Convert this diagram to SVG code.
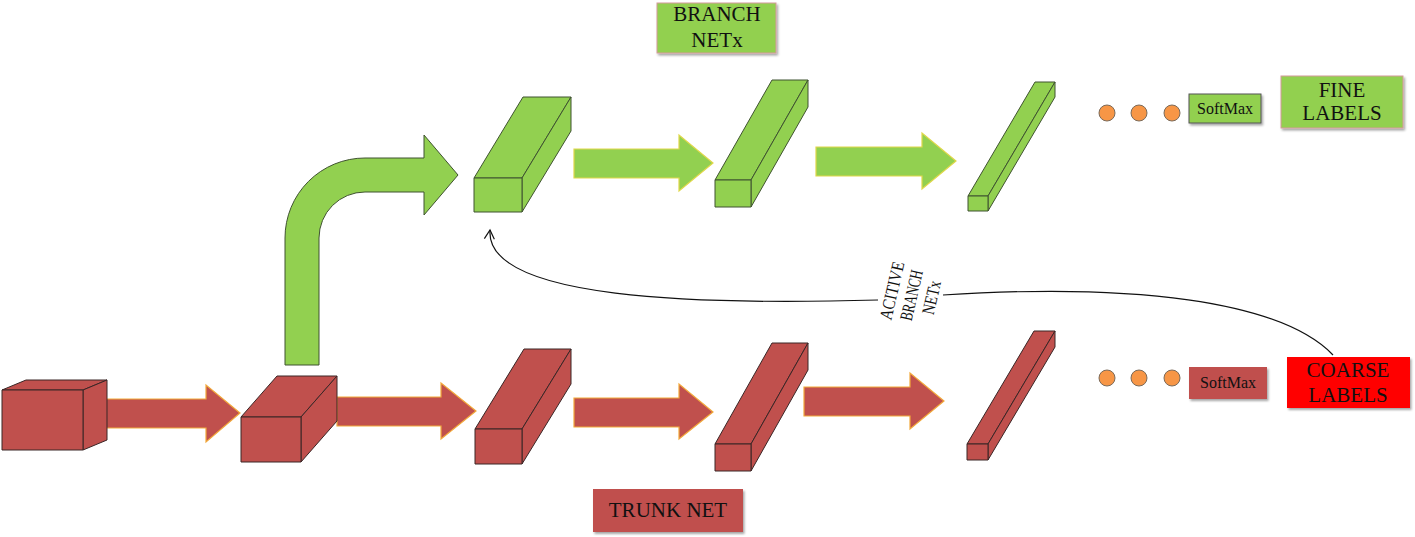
<svg xmlns="http://www.w3.org/2000/svg" width="1415" height="537" viewBox="0 0 1415 537">
<defs>
<style>
.r{fill:#C0504D;stroke:#3a2626;stroke-width:1;stroke-linejoin:round}
.g{fill:#92D050;stroke:#3f5330;stroke-width:1;stroke-linejoin:round}
.ra{fill:#C0504D;stroke:#F2A93B;stroke-width:1.2}
.ga{fill:#92D050;stroke:#E0D84A;stroke-width:1.2}
.dot{fill:#F79646;stroke:#7a6a5a;stroke-width:1}
text{font-family:'Liberation Serif','Times New Roman',serif;fill:#111;text-anchor:middle}
.lbl{stroke:#d49a9a;stroke-width:1}
.conn{fill:none;stroke:#111;stroke-width:1.2}
</style>
<filter id="sh" x="-10%" y="-10%" width="130%" height="140%">
<feDropShadow dx="1.5" dy="2" stdDeviation="1.2" flood-color="#000" flood-opacity="0.35"/>
</filter>
<marker id="ah" viewBox="0 0 12 12" refX="10" refY="6" markerWidth="12" markerHeight="12" markerUnits="userSpaceOnUse" orient="auto">
<path d="M1,1 L10,6 L1,11" fill="none" stroke="#111" stroke-width="1.2"/>
</marker>
</defs>
<rect width="1415" height="537" fill="#fff"/>

<g id="connectors">
<path class="ra" d="M101,399 H206 V385 L240,413 L206,442 V428 H101 Z"/>
<path class="ra" d="M337,397 H441 V383 L476,411 L441,439 V426 H337 Z"/>
<path class="ra" d="M574,398 H679 V384 L713,412 L679,439 V427 H574 Z"/>
<path class="ra" d="M804,387 H910 V373 L944,401 L910,429 V416 H804 Z"/>
<path class="ga" d="M574,149 H679 V135 L713,163 L679,191 V178 H574 Z"/>
<path class="ga" d="M816,147 H922 V133 L956,161 L922,189 V176 H816 Z"/>
<path class="g" d="M285,365 V238 A80,80 0 0 1 365,158 H424 V135 L458,175 L424,215 V192 H365 A46,46 0 0 0 319,238 V365 Z"/>
<path class="conn" d="M1333,355 C1280,300 1130,283 943,295"/>
<path class="conn" d="M878,300 C700,305 485,300 490,230" marker-end="url(#ah)"/>
<text font-family="Liberation Serif, serif" font-size="18" transform="translate(912,293) rotate(-77)">
<tspan x="0" y="-14" textLength="59" lengthAdjust="spacingAndGlyphs">ACITIVE</tspan>
<tspan x="0" y="6" textLength="51" lengthAdjust="spacingAndGlyphs">BRANCH</tspan>
<tspan x="0" y="26" textLength="34" lengthAdjust="spacingAndGlyphs">NETx</tspan>
</text>
</g>

<g id="cube1">
<polygon class="r" points="2,390 26,380 107,380 83,390"/>
<polygon class="r" points="83,390 107,380 107,440 83,450"/>
<rect class="r" x="2" y="390" width="81" height="60"/>
</g>
<g id="cube2">
<polygon class="r" points="241,417 277,376 337,376 301,417"/>
<polygon class="r" points="301,417 337,376 337,421 301,462"/>
<rect class="r" x="241" y="417" width="60" height="45"/>
</g>
<g id="red3">
<polygon class="r" points="475,429 524,349 571,349 522,429"/>
<polygon class="r" points="522,429 571,349 571,384 522,464"/>
<rect class="r" x="475" y="429" width="47" height="35"/>
</g>
<g id="red4">
<polygon class="r" points="715,444 772,343 808,343 751,444"/>
<polygon class="r" points="751,444 808,343 808,370 751,471"/>
<rect class="r" x="715" y="444" width="36" height="27"/>
</g>
<g id="red5">
<polygon class="r" points="967,444 1034,331 1055,331 988,444"/>
<polygon class="r" points="988,444 1055,331 1055,347 988,460"/>
<rect class="r" x="967" y="444" width="21" height="16"/>
</g>
<g id="green1">
<polygon class="g" points="474,178 523,97 571,97 522,178"/>
<polygon class="g" points="522,178 571,97 571,131 522,212"/>
<rect class="g" x="474" y="178" width="48" height="34"/>
</g>
<g id="green2">
<polygon class="g" points="715,180 772,80 808,80 751,180"/>
<polygon class="g" points="751,180 808,80 808,107 751,207"/>
<rect class="g" x="715" y="180" width="36" height="27"/>
</g>
<g id="green3">
<polygon class="g" points="968,196 1035,82 1055,82 988,196"/>
<polygon class="g" points="988,196 1055,82 1055,97 988,211"/>
<rect class="g" x="968" y="196" width="20" height="15"/>
</g>

<g id="dots-fine">
<circle class="dot" cx="1107" cy="113" r="8"/>
<circle class="dot" cx="1139" cy="113" r="8"/>
<circle class="dot" cx="1172" cy="113" r="8"/>
</g>
<g id="dots-coarse">
<circle class="dot" cx="1107" cy="378" r="8"/>
<circle class="dot" cx="1139" cy="378" r="8"/>
<circle class="dot" cx="1172" cy="378" r="8"/>
</g>

<g id="softmax-fine">
<rect x="1189" y="94" width="72" height="29" fill="#92D050" stroke="#555" stroke-width="1" filter="url(#sh)"/>
<text font-family="Liberation Serif, serif" x="1225" y="114" font-size="16">SoftMax</text>
</g>
<g id="softmax-coarse">
<rect x="1189" y="367" width="78" height="32" fill="#C0504D" filter="url(#sh)"/>
<text font-family="Liberation Serif, serif" x="1228" y="388" font-size="16">SoftMax</text>
</g>

<g id="fine-labels">
<rect class="lbl" x="1281" y="76" width="122" height="52" fill="#92D050" filter="url(#sh)"/>
<text font-family="Liberation Serif, serif" x="1342" y="97" font-size="21">FINE</text>
<text font-family="Liberation Serif, serif" x="1342" y="120" font-size="21">LABELS</text>
</g>
<g id="coarse-labels">
<rect x="1287" y="357" width="123" height="51" fill="#FF0000" filter="url(#sh)"/>
<text font-family="Liberation Serif, serif" x="1348" y="377" font-size="21">COARSE</text>
<text font-family="Liberation Serif, serif" x="1348" y="402" font-size="21">LABELS</text>
</g>
<g id="branch-net">
<rect class="lbl" x="657" y="3" width="119" height="50" fill="#92D050" filter="url(#sh)"/>
<text font-family="Liberation Serif, serif" x="717" y="21" font-size="21">BRANCH</text>
<text font-family="Liberation Serif, serif" x="717" y="47" font-size="21">NETx</text>
</g>
<g id="trunk-net">
<rect x="593" y="489" width="150" height="43" fill="#C0504D" filter="url(#sh)"/>
<text font-family="Liberation Serif, serif" x="668" y="517" font-size="21">TRUNK NET</text>
</g>
</svg>
